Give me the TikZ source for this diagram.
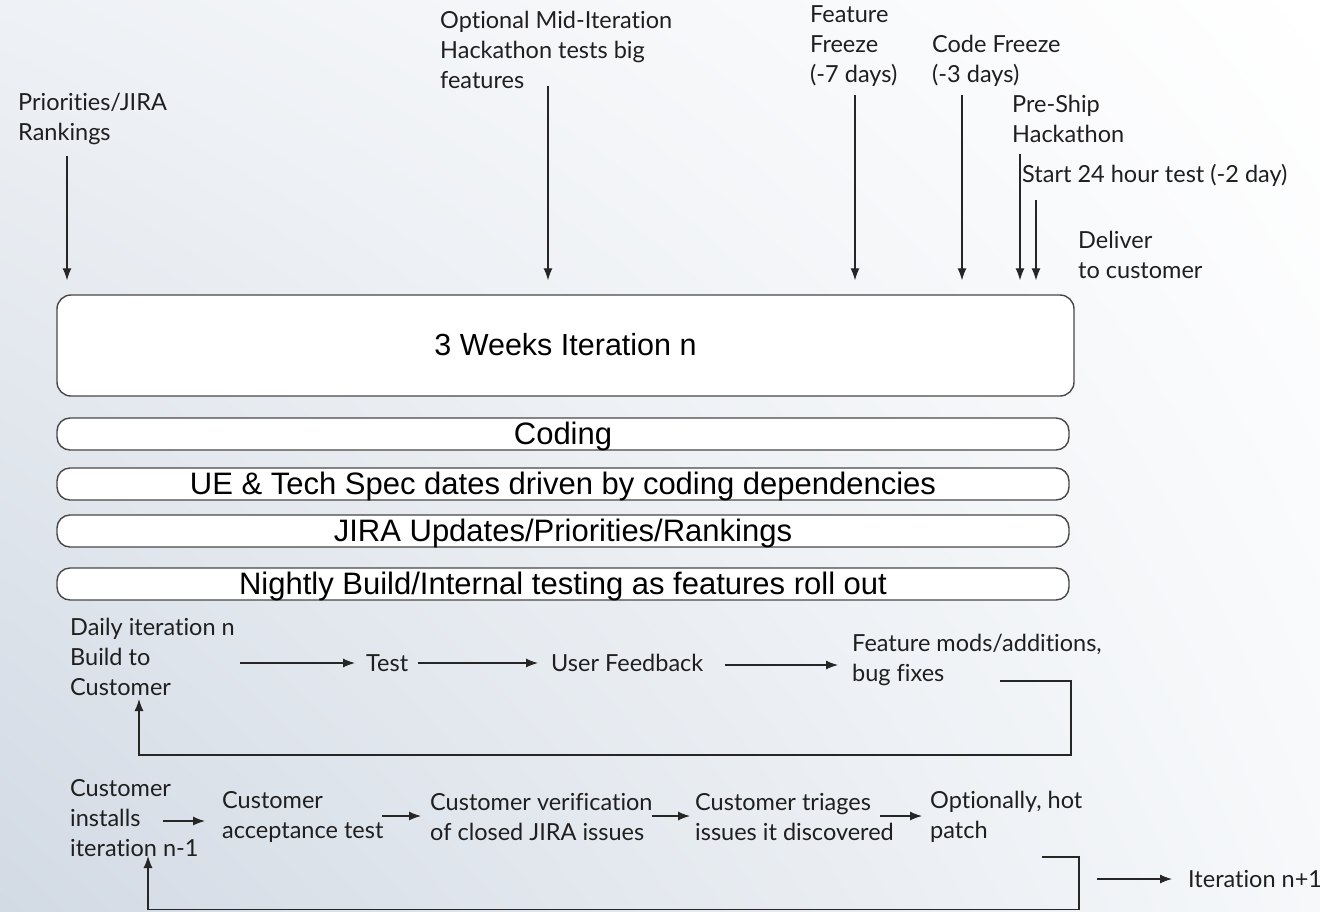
\documentclass[tikz,border=0pt]{standalone}
\usepackage{fontspec}
\setmainfont{Lato}[Ligatures={NoCommon}]
\newfontfamily\boxfont{Liberation Sans}
\usetikzlibrary{arrows.meta,shadings}
\definecolor{bgA}{RGB}{210,218,228}
\definecolor{bgB}{RGB}{238,241,245}
\definecolor{bgC}{RGB}{246,248,250}
\begin{document}
\begin{tikzpicture}[x=1pt,y=-1pt,
  lbl/.style={font=\fontsize{23.5}{30}\selectfont, inner sep=0pt, align=left, anchor=west, text=black!88},
  bigbox/.style={draw=black!72, line width=1.4pt, fill=white, rounded corners=14pt,
    font=\boxfont\fontsize{30.5}{32}\selectfont, minimum width=1017pt, minimum height=101pt, inner sep=0pt,
    text height=25pt, text depth=5pt},
  pill/.style={draw=black!72, line width=1.4pt, fill=white, rounded corners=13pt,
    font=\boxfont\fontsize{31}{32}\selectfont, minimum width=1012pt, minimum height=32pt, inner sep=0pt,
    text height=26pt, text depth=5pt},
  arr/.style={-{Latex[length=12pt,width=9pt]}, line width=1.2pt, black!85},
  ]
\useasboundingbox (0,0) rectangle (1320,911);
\shade[lower left=bgA, upper left=bgB, lower right=bgC, upper right=white] (0,0) rectangle (1320,911);

% boxes
\node[bigbox] (big) at (565.5,345.5) {3 Weeks Iteration n};
\node[pill] (coding) at (563,434) {Coding};
\node[pill] (ue) at (563,484) {UE \& Tech Spec dates driven by coding dependencies};
\node[pill] (jira) at (563,531) {JIRA Updates/Priorities/Rankings};
\node[pill] (night) at (563,584) {Nightly Build/Internal testing as features roll out};

% top labels
\node[lbl] (pri) at (18,119) {Priorities/JIRA\\Rankings};
\node[lbl] (mid) at (440,50) {Optional Mid-Iteration\\Hackathon tests big\\features};
\node[lbl] (ff) at (810,46) {Feature\\Freeze\\(-7 days)};
\node[lbl] (cf) at (932,61) {Code Freeze\\(-3 days)};
\node[lbl] (ps) at (1012,118.5) {Pre-Ship\\Hackathon};
\node[lbl] (st) at (1022,175) {Start 24 hour test (-2 day)};
\node[lbl] (dl) at (1078,254.5) {Deliver\\to customer};

\coordinate (t1) at (67,156);
\coordinate (t2) at (548,86);
\coordinate (t3) at (855,95);
\coordinate (t4) at (962,95);
\coordinate (t5) at (1020,154);
\coordinate (t6) at (1036,200);
\foreach \t in {t1,t2,t3,t4,t5,t6}
  \draw[arr, shorten >=14pt] (\t) -- (\t |- big.north);

% daily loop
\node[lbl] (daily) at (70,657) {Daily iteration n\\Build to\\Customer};
\node[lbl] (test) at (366,663) {Test};
\node[lbl] (uf) at (551,663) {User Feedback};
\node[lbl] (fm) at (852,660) {Feature mods/additions,\\bug fixes};

\coordinate (d1) at (240,663);
\draw[arr, shorten >=11pt] (d1) -- (d1 -| test.west);
\coordinate (d2) at (418,663);
\draw[arr, shorten >=13pt] (d2) -- (d2 -| uf.west);
\coordinate (d3) at (725,665);
\draw[arr, shorten >=14pt] (d3) -- (d3 -| fm.west);
\coordinate (l1) at (1000,681);
\coordinate (lr) at (1071,755);
\coordinate (l2) at (139,699);
\draw[arr] (l1) -| (lr) -| (l2);

% customer row
\node[lbl] (ci) at (70,818) {Customer\\installs\\iteration n-1};
\node[lbl] (cat) at (222,817) {Customer\\acceptance test};
\node[lbl] (cv) at (430,817) {Customer verification\\of closed JIRA issues};
\node[lbl] (ct) at (695,817) {Customer triages\\issues it discovered};
\node[lbl] (oh) at (930,817) {Optionally, hot\\patch};
\node[lbl, anchor=west] (inext) at (1188,879) {Iteration n+1};

\coordinate (c1) at (163,821);
\draw[arr, shorten >=17pt] (c1) -- (c1 -| cat.west);
\coordinate (c2) at (382,816);
\draw[arr, shorten >=9pt] (c2) -- (c2 -| cv.west);
\coordinate (c3) at (652,816);
\draw[arr, shorten >=5pt] (c3) -- (c3 -| ct.west);
\coordinate (c4) at (880,816);
\draw[arr, shorten >=8pt] (c4) -- (c4 -| oh.west);
\coordinate (b1) at (1042,857);
\coordinate (br) at (1079,909.5);
\coordinate (b2) at (148,856);
\draw[arr] (b1) -| (br) -| (b2);
\coordinate (n1) at (1097,879);
\draw[arr, shorten >=16pt] (n1) -- (n1 -| inext.west);
\end{tikzpicture}
\end{document}
